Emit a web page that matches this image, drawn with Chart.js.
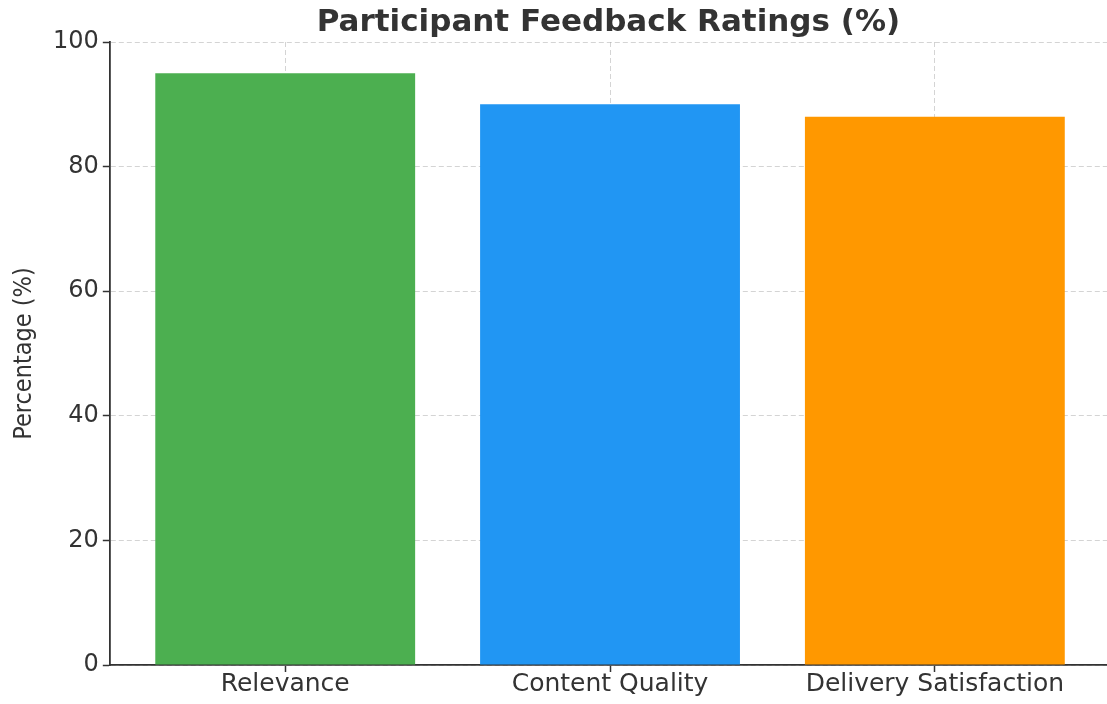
<!DOCTYPE html>
<html>
<head>
<meta charset="utf-8">
<script src="https://cdn.jsdelivr.net/npm/chart.js@4/dist/chart.umd.min.js"></script>
<style>
html,body{margin:0;padding:0;background:#fff;}
#wrap{width:1107px;height:704px;position:relative;}
</style>
</head>
<body>
<div id="wrap"><canvas id="c" width="1107" height="704"></canvas></div>
<script>
const chartTitle = "Participant Feedback Ratings (%)";
const yAxisTitle = "Percentage (%)";
const categories = ["Relevance", "Content Quality", "Delivery Satisfaction"];
const values = [95, 90, 88];
const barColors = ["#4CAF50", "#2196F3", "#FF9800"];
const yTicks = [0, 20, 40, 60, 80, 100];

const titlePlugin = {
  id: 'axTitle',
  afterDraw(chart) {
    const ctx = chart.ctx, a = chart.chartArea;
    ctx.save();
    ctx.font = "bold 31px 'DejaVu Sans'";
    ctx.fillStyle = "#333333";
    ctx.textAlign = "center";
    ctx.textBaseline = "middle";
    ctx.fillText(chartTitle, (a.left + a.right) / 2, 23);
    ctx.restore();
  }
};

const gridCfg = {color: 'rgba(170,170,170,0.5)', lineWidth: 1, tickColor: '#333333', tickLength: 7, tickWidth: 1.5, offset: false};
const borderCfg = {display: true, color: '#333333', width: 1.8, dash: [5, 3]};

new Chart(document.getElementById('c'), {
  type: 'bar',
  data: {
    datasets: [{
      data: categories.map((c, i) => ({x: i, y: values[i]})),
      backgroundColor: barColors,
      borderWidth: 0,
      barPercentage: 0.8,
      categoryPercentage: 1.0
    }]
  },
  options: {
    responsive: false,
    animation: false,
    layout: {padding: {top: 42, right: 0, left: 9, bottom: 7}},
    plugins: {legend: {display: false}, tooltip: {enabled: false}, title: {display: false}},
    scales: {
      x: {
        type: 'linear',
        offset: false,
        min: -0.54,
        max: 2.53,
        z: 1,
        afterBuildTicks: s => { s.ticks = categories.map((c, i) => ({value: i})); },
        ticks: {
          callback: v => categories[v],
          font: {family: "'DejaVu Sans'", size: 25, lineHeight: 1.0},
          color: '#333333',
          padding: 0,
          maxRotation: 0,
          autoSkip: false
        },
        grid: gridCfg,
        border: borderCfg
      },
      y: {
        min: 0,
        max: 100,
        z: 1,
        afterBuildTicks: s => { s.ticks = yTicks.map(v => ({value: v})); },
        ticks: {
          font: {family: "'DejaVu Sans'", size: 24},
          color: '#333333',
          padding: 4
        },
        title: {
          display: true,
          text: yAxisTitle,
          font: {family: "'DejaVu Sans Condensed', 'DejaVu Sans'", size: 25},
          color: '#333333',
          padding: {top: 0, bottom: 10}
        },
        grid: gridCfg,
        border: borderCfg
      }
    }
  },
  plugins: [titlePlugin]
});
</script>
</body>
</html>
